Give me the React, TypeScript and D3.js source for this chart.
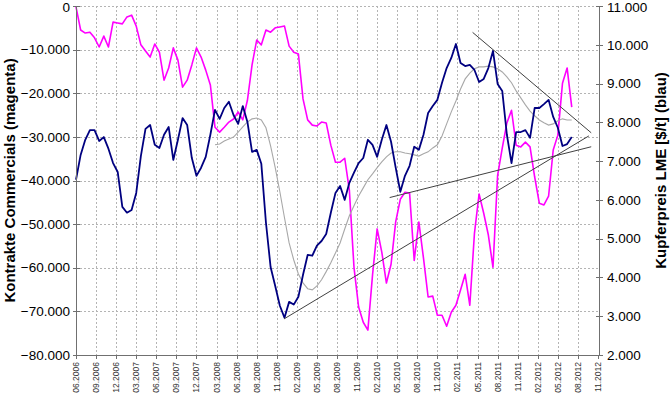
import React from "react";
import * as d3 from "d3";

// x axis labels, one every 13 weeks
const tickLabels = [
  "06.2006", "09.2006", "12.2006", "03.2007", "06.2007", "09.2007", "12.2007",
  "03.2008", "06.2008", "08.2008", "11.2008", "02.2009", "05.2009", "08.2009",
  "11.2009", "02.2010", "05.2010", "08.2010", "11.2010", "02.2011", "05.2011",
  "08.2011", "11.2011", "02.2012", "05.2012", "08.2012", "11.2012",
];

// commitments of commercials (contracts), one value every 3 weeks
const commercials = [
  -200, -5500, -6200, -6000, -7300, -9400, -6900, -9400, -3700, -3900,
  -4100, -2500, -2100, -4600, -8900, -10300, -11700, -8700, -10600, -17000,
  -14200, -9600, -12400, -18600, -17000, -13500, -9600, -11700, -14700, -18100,
  -27800, -28900, -27800, -26600, -25900, -24300, -26100, -21600, -13500, -7800,
  -8900, -5500, -6000, -5000, -4800, -4600, -9200, -10600, -11000, -21300,
  -26100, -27300, -27500, -26600, -26800, -31900, -35800, -35800, -34900, -42200,
  -59900, -69000, -72500, -74300, -61700, -51100, -56400, -63500, -59200, -49500,
  -44300, -42700, -42900, -58300, -49500, -57800, -66700, -66500, -70900, -70900,
  -73400, -70200, -68600, -65100, -61500, -68600, -52100, -43100, -47500, -52500,
  -59900, -38800, -32600, -26800, -23900, -31900, -32300, -31200, -32300, -39200,
  -45200, -45600, -43600, -33000, -29600, -17700, -14200, -23200,
];

// LME copper price ($/t), same dates
const copper = [
  6520, 7160, 7550, 7800, 7800, 7520, 7620, 7320, 6950, 6720,
  5820, 5670, 5740, 6180, 7130, 7830, 7930, 7420, 7340, 7680,
  7880, 7030, 7550, 8110, 7930, 7080, 6620, 6830, 7110, 7680,
  8320, 8090, 8370, 8530, 8190, 7960, 8420, 8010, 7240, 7290,
  6930, 5410, 4270, 3780, 3270, 2960, 3370, 3300, 3500, 4070,
  4580, 4560, 4820, 4940, 5120, 5670, 6180, 6360, 6000, 6440,
  6700, 6950, 7080, 7550, 7420, 7110, 7550, 7930, 7500, 6830,
  6210, 6620, 6880, 7370, 7290, 7680, 8240, 8420, 8580, 9020,
  9400, 9660, 10020, 9530, 9450, 9480, 9350, 9040, 9120, 9400,
  9840, 8990, 8810, 7680, 6950, 7750, 7750, 7800, 7600, 8370,
  8370, 8470, 8580, 8140, 7860, 7390, 7440, 7620,
];

// moving average of the copper price, starting at sample 30
const avgStart = 30;
const copperAvg = [
  7420, 7440, 7520, 7570, 7620, 7750, 7880, 8010, 8090, 8110,
  8060, 7860, 7390, 6830, 6210, 5540, 4890, 4450, 4090, 3860,
  3710, 3680, 3780, 3940, 4150, 4380, 4630, 4890, 5250, 5590,
  5850, 6100, 6310, 6520, 6670, 6830, 6980, 7110, 7210, 7240,
  7240, 7210, 7190, 7160, 7130, 7190, 7240, 7340, 7420, 7650,
  7960, 8270, 8550, 8860, 9120, 9270, 9380, 9430, 9430, 9450,
  9430, 9380, 9300, 9170, 9020, 8810, 8630, 8450, 8290, 8170,
  8060, 7990, 7930, 7960, 8040, 8090, 8060, 8060,
];

// trend lines drawn on the copper price: [sample, price, sample, price]
const trendLines = [
  [85.6, 10320, 111.2, 7730],
  [67.7, 6060, 111.2, 7370],
  [44.9, 2930, 110.7, 7650],
];

const leftTicks = [0, -10000, -20000, -30000, -40000, -50000, -60000, -70000, -80000];
const rightTicks = [11000, 10000, 9000, 8000, 7000, 6000, 5000, 4000, 3000, 2000];

const W = 670, H = 394;
const left = 76, right = 599, top = 6, bottom = 355;
const font = "Arial, 'Liberation Sans', sans-serif";
const fmt = (v: number) => d3.format(",")(v).replace(/,/g, ".");

export default function App() {
  const x = d3.scaleLinear().domain([0, 338]).range([left, right - 1]);
  const sx = (i: number) => x(i * 3);
  const yL = d3.scaleLinear().domain([-80000, 0]).range([bottom, top]);
  const yR = d3.scaleLinear().domain([2000, 11000]).range([bottom, top]);

  const magLine = d3.line<number>().x((_, i) => sx(i)).y((d) => yL(d));
  const blueLine = d3.line<number>().x((_, i) => sx(i)).y((d) => yR(d));
  const avgLine = d3.line<number>().x((_, i) => sx(i + avgStart)).y((d) => yR(d));

  const axisColor = "#707070";
  const gridColor = "#b4b4b4";

  return (
    <svg width={W} height={H} style={{ position: "absolute", left: 0, top: 0, background: "#fff" }}
      fontFamily={font}>
      {/* grid */}
      <g stroke={gridColor} strokeWidth={1} strokeDasharray="2 2">
        {tickLabels.map((_, k) => k > 0 && k < tickLabels.length - 1 && (
          <line key={k} x1={Math.round(x(k * 13)) + 0.5} x2={Math.round(x(k * 13)) + 0.5} y1={top} y2={bottom} />
        ))}
        {leftTicks.slice(0, -1).map((t) => (
          <line key={t} x1={left} x2={right} y1={Math.round(yL(t)) + 0.5} y2={Math.round(yL(t)) + 0.5} />
        ))}
      </g>

      {/* series */}
      <path d={magLine(commercials) || ""} fill="none" stroke="#ff00ff" strokeWidth={1.6} strokeLinejoin="round" />
      <path d={avgLine(copperAvg) || ""} fill="none" stroke="#a8a8a8" strokeWidth={1.1} />
      <path d={blueLine(copper) || ""} fill="none" stroke="#000080" strokeWidth={1.8} strokeLinejoin="round" />
      <g stroke="#404040" strokeWidth={1}>
        {trendLines.map((t, k) => (
          <line key={k} x1={sx(t[0])} y1={yR(t[1])} x2={sx(t[2])} y2={yR(t[3])} />
        ))}
      </g>

      {/* axes */}
      <g stroke={axisColor} strokeWidth={1}>
        <line x1={left + 0.5} x2={left + 0.5} y1={top} y2={bottom} />
        <line x1={right + 0.5} x2={right + 0.5} y1={top} y2={bottom} />
        <line x1={left} x2={right + 1} y1={bottom + 0.5} y2={bottom + 0.5} />
        {leftTicks.map((t) => (
          <line key={t} x1={left - 3} x2={left + 4} y1={Math.round(yL(t)) + 0.5} y2={Math.round(yL(t)) + 0.5} />
        ))}
        {rightTicks.map((t) => (
          <line key={t} x1={right - 3} x2={right + 4} y1={Math.round(yR(t)) + 0.5} y2={Math.round(yR(t)) + 0.5} />
        ))}
        {tickLabels.map((_, k) => (
          <line key={k} x1={Math.round(x(k * 13)) + 0.5} x2={Math.round(x(k * 13)) + 0.5} y1={bottom} y2={bottom + 4} />
        ))}
      </g>

      {/* tick labels */}
      <g fontSize={13.5} fill="#000">
        {leftTicks.map((t) => (
          <text key={t} x={left - 6} y={Math.max(yL(t), 7)} dy="0.35em" textAnchor="end">{fmt(t)}</text>
        ))}
        {rightTicks.map((t) => (
          <text key={t} x={right + 8} y={Math.max(yR(t), 7)} dy="0.35em" textAnchor="start">{fmt(t)}</text>
        ))}
      </g>
      <g fontSize={8.5} fill="#333">
        {tickLabels.map((l, k) => (
          <text key={k} transform={`translate(${x(k * 13) + 3},${bottom + 7}) rotate(-90)`} textAnchor="end">{l}</text>
        ))}
      </g>

      {/* axis titles */}
      <text transform={`translate(15,${(top + bottom) / 2}) rotate(-90)`} textAnchor="middle"
        fontSize={15} fontWeight="bold">Kontrakte Commercials (magenta)</text>
      <text transform={`translate(666,${(top + bottom) / 2 - 10}) rotate(-90)`} textAnchor="middle"
        fontSize={15} fontWeight="bold">Kupferpreis LME [$/t] (blau)</text>
    </svg>
  );
}
